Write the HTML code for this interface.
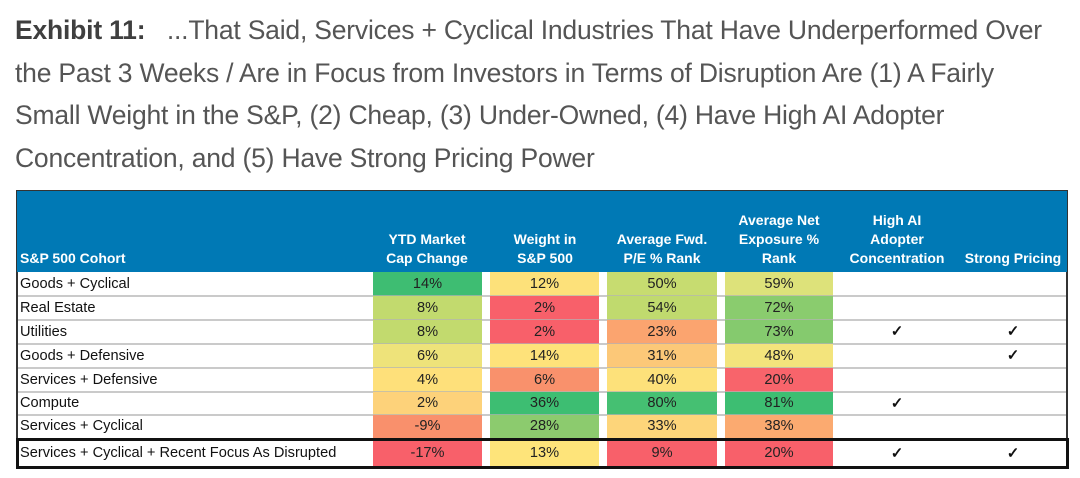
<!DOCTYPE html>
<html><head><meta charset="utf-8"><style>
body{margin:0;width:1080px;height:478px;background:#fff;position:relative;overflow:hidden;font-family:"Liberation Sans",Arial,sans-serif}
#title{position:absolute;left:15px;top:9px;width:1065px;font-size:26.5px;line-height:42.5px;color:#555;letter-spacing:-0.2px;white-space:nowrap}
#title b{color:#3f3f3f}
#tbl{position:absolute;left:0;top:0;width:1080px;height:478px}
.abs{position:absolute}
.hdr{position:absolute;color:#fff;font-weight:bold;font-size:14px;line-height:19px;text-align:center;bottom:0}
.lbl{position:absolute;left:20px;font-size:14.6px;color:#111;white-space:nowrap}
.cell{position:absolute;font-size:14.6px;color:#222;text-align:center}
.chk{position:absolute;font-size:15px;color:#111;text-align:center;font-weight:bold}
</style></head><body>
<div id="title"><b>Exhibit 11:</b>&nbsp;&nbsp; ...That Said, Services + Cyclical Industries That Have Underperformed Over<br>the Past 3 Weeks / Are in Focus from Investors in Terms of Disruption Are (1) A Fairly<br>Small Weight in the S&amp;P, (2) Cheap, (3) Under-Owned, (4) Have High AI Adopter<br>Concentration, and (5) Have Strong Pricing Power</div>
<div id="tbl"></div>
<script>
const cohorts=["Goods + Cyclical","Real Estate","Utilities","Goods + Defensive","Services + Defensive","Compute","Services + Cyclical","Services + Cyclical + Recent Focus As Disrupted"];
const ytd=[14,8,8,6,4,2,-9,-17];
const weight=[12,2,2,14,6,36,28,13];
const pe=[50,54,23,31,40,80,33,9];
const net=[59,72,73,48,20,81,38,20];
const highAI=[0,0,1,0,0,1,0,1];
const pricing=[0,0,1,1,0,0,0,1];
const ytdColors=["#3ebd72","#c2da6e","#c2da6e","#eee37a","#fee07a","#fdd27a","#f9906c","#f8606a"];
const weightColors=["#fde17a","#f8606a","#f8606a","#fee27a","#f9916c","#3dbe72","#8ccb6e","#fee47a"];
const peColors=["#c7dc70","#c0da6e","#fba46f","#fcc878","#fde17a","#45c072","#fdd57a","#f8606a"];
const netColors=["#dde27a","#8acc6e","#85ca6e","#f3e47c","#f8646b","#3dbe72","#fbaa70","#f8606a"];
const headers=[["S&P 500 Cohort"],["YTD Market","Cap Change"],["Weight in","S&P 500"],["Average Fwd.","P/E % Rank"],["Average Net","Exposure %","Rank"],["High AI","Adopter","Concentration"],["Strong Pricing"]];
const T=document.getElementById('tbl');
function mk(cls,css,txt){const d=document.createElement('div');d.className=cls;d.style.cssText=css;if(txt!==undefined)d.textContent=txt;T.appendChild(d);return d;}
const cols=[[373,109],[490,109],[607,110],[725,108]];
const chkX=[897,1013];
const rowTop=[272,296,320,344,368,392,415,441];
const rowH=[24,24,24,24,24,23,23,25];
const hb=mk('abs','left:16px;top:190px;width:1052px;height:82px;background:#0079b5;border:1px solid #333;border-bottom:none;box-sizing:border-box');

const hcent=[null,427,545,662,779,897,1013];
headers.forEach((h,i)=>{
  const w=i==0?200:130;
  const left=i==0?20:hcent[i]-w/2;
  const d=mk('hdr',`left:${left}px;width:${w}px;top:auto;bottom:${478-268}px;text-align:${i==0?'left':'center'}`);
  d.innerHTML=h.join('<br>');
  
  
});
const lb=mk('abs','left:16px;top:272px;width:2px;height:166px;background:#333');

const rb=mk('abs','left:1066px;top:272px;width:2px;height:166px;background:#333');

const series=[[ytd,ytdColors],[weight,weightColors],[pe,peColors],[net,netColors]];
cohorts.forEach((c,r)=>{
  const top=rowTop[r],h=rowH[r];
  series.forEach((s,k)=>{
    const d=mk('cell',`left:${cols[k][0]}px;width:${cols[k][1]}px;top:${top}px;height:${h}px;line-height:${h}px;background:${s[1][r]}`,s[0][r]+'%');
    
    
  });
  const l=mk('lbl',`top:${top}px;height:${h}px;line-height:${h}px`,c);
  
  
  [highAI,pricing].forEach((arr,k)=>{
    if(arr[r]){const d=mk('chk',`left:${chkX[k]-15}px;width:30px;top:${top}px;height:${h}px;line-height:${h}px`,'✓');
    
    }
  });
  if(r<6){const sep=mk('abs',`left:18px;width:1048px;top:${top+h-1}px;height:2px;background:rgba(180,180,180,0.7)`);
  
  }
});
const box=mk('abs','left:16px;top:438px;width:1053px;height:31px;border:3px solid #111;box-sizing:border-box');


</script>
</body></html>
